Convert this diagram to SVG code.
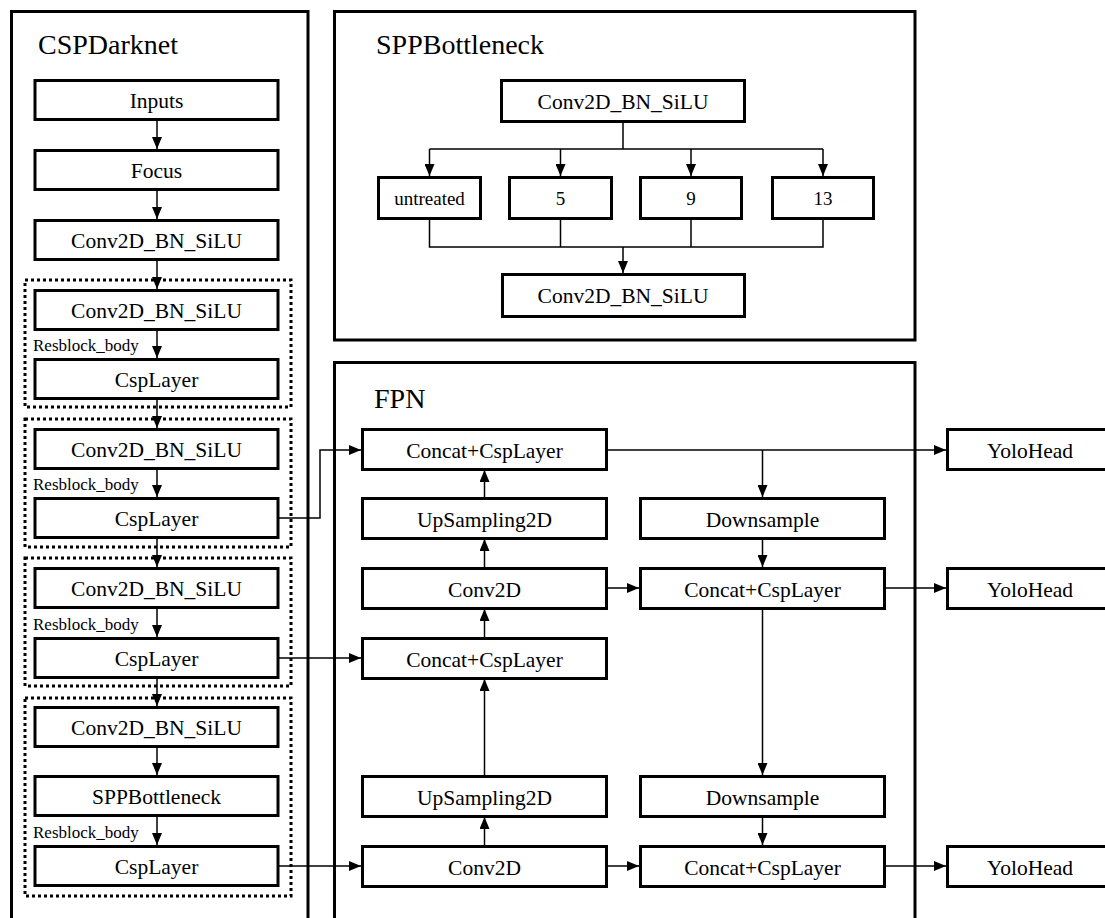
<svg xmlns="http://www.w3.org/2000/svg" width="1105" height="918" viewBox="0 0 1105 918">
<defs>
<marker id="ah" markerUnits="userSpaceOnUse" markerWidth="12" markerHeight="10" refX="12" refY="5" orient="auto">
<path d="M0,0 L12,5 L0,10 z" fill="#000"/>
</marker>
<style>
.frame{fill:none;stroke:#000;stroke-width:3}
.box{fill:#fff;stroke:#000;stroke-width:3}
.dot{fill:none;stroke:#000;stroke-width:3;stroke-dasharray:3 3}
.t{font-family:"Liberation Serif","Times New Roman",serif;font-size:21.5px;text-anchor:middle;fill:#000}
.s{font-family:"Liberation Serif","Times New Roman",serif;font-size:19px;text-anchor:middle;fill:#000}
.title{font-family:"Liberation Serif","Times New Roman",serif;font-size:28px;fill:#000}
.lab{font-family:"Liberation Serif","Times New Roman",serif;font-size:17px;fill:#000}
.c{fill:none;stroke:#000;stroke-width:1.5}
.a{fill:none;stroke:#000;stroke-width:1.5;marker-end:url(#ah)}
</style>
</defs>
<rect width="1105" height="918" fill="#fff"/>

<g id="frames">
<path class="frame" d="M11.5,930 V11.5 H308 V930"/>
<rect class="frame" x="334.5" y="11.5" width="580.5" height="328.5"/>
<path class="frame" d="M334.5,930 V362.5 H915 V930"/>
<text class="title" x="38" y="54">CSPDarknet</text>
<text class="title" x="376" y="54">SPPBottleneck</text>
<text class="title" x="374" y="408">FPN</text>
</g>

<g id="resblocks">
<rect class="dot" x="25" y="280" width="266" height="127"/>
<rect class="dot" x="25" y="419" width="266" height="128"/>
<rect class="dot" x="25" y="558" width="266" height="128"/>
<rect class="dot" x="25" y="698" width="266" height="198"/>
<text class="lab" x="33" y="351">Resblock_body</text>
<text class="lab" x="33" y="490">Resblock_body</text>
<text class="lab" x="33" y="630">Resblock_body</text>
<text class="lab" x="33" y="838">Resblock_body</text>
</g>

<g id="connectors">
<line class="a" x1="157" y1="121" x2="157" y2="149"/>
<line class="a" x1="157" y1="191" x2="157" y2="219"/>
<line class="a" x1="157" y1="261" x2="157" y2="289"/>
<line class="a" x1="157" y1="331" x2="157" y2="358"/>
<line class="a" x1="157" y1="400" x2="157" y2="428"/>
<line class="a" x1="157" y1="470" x2="157" y2="497"/>
<line class="a" x1="157" y1="539" x2="157" y2="567"/>
<line class="a" x1="157" y1="609" x2="157" y2="637"/>
<line class="a" x1="157" y1="679" x2="157" y2="706"/>
<line class="a" x1="157" y1="748" x2="157" y2="775"/>
<line class="a" x1="157" y1="817" x2="157" y2="845"/>

<line class="c" x1="623" y1="122" x2="623" y2="149"/>
<line class="c" x1="429.5" y1="149" x2="823" y2="149"/>
<line class="a" x1="429.5" y1="149" x2="429.5" y2="176"/>
<line class="a" x1="560.5" y1="149" x2="560.5" y2="176"/>
<line class="a" x1="691" y1="149" x2="691" y2="176"/>
<line class="a" x1="823" y1="149" x2="823" y2="176"/>
<path class="c" d="M429.5,220 V247 H823 V220 M560.5,220 V247 M691,220 V247"/>
<line class="a" x1="623" y1="247" x2="623" y2="273"/>

<path class="a" d="M279,518 H320 V450 H361"/>
<line class="a" x1="279" y1="658" x2="361" y2="658"/>
<line class="a" x1="279" y1="866" x2="361" y2="866"/>
<line class="a" x1="484.5" y1="845" x2="484.5" y2="817"/>
<line class="a" x1="484.5" y1="775" x2="484.5" y2="679"/>
<line class="a" x1="484.5" y1="637" x2="484.5" y2="609"/>
<line class="a" x1="484.5" y1="567" x2="484.5" y2="539"/>
<line class="a" x1="484.5" y1="497" x2="484.5" y2="470"/>
<line class="a" x1="608" y1="450" x2="946" y2="450"/>
<line class="a" x1="762.5" y1="450" x2="762.5" y2="497"/>
<line class="a" x1="762.5" y1="539" x2="762.5" y2="567"/>
<line class="a" x1="608" y1="588" x2="639" y2="588"/>
<line class="a" x1="886" y1="588" x2="946" y2="588"/>
<line class="a" x1="762.5" y1="609" x2="762.5" y2="775"/>
<line class="a" x1="762.5" y1="817" x2="762.5" y2="845"/>
<line class="a" x1="608" y1="866" x2="639" y2="866"/>
<line class="a" x1="886" y1="866" x2="946" y2="866"/>
</g>

<g id="inputs"><rect class="box" x="35" y="80.5" width="243" height="39"/><text class="t" x="156.5" y="108">Inputs</text></g>
<g id="focus"><rect class="box" x="35" y="150.5" width="243" height="39"/><text class="t" x="156.5" y="178">Focus</text></g>
<g id="csp_conv0"><rect class="box" x="35" y="220.5" width="243" height="39"/><text class="t" x="156.5" y="248">Conv2D_BN_SiLU</text></g>
<g id="csp_conv1"><rect class="box" x="35" y="290.5" width="243" height="39"/><text class="t" x="156.5" y="318">Conv2D_BN_SiLU</text></g>
<g id="csp_layer1"><rect class="box" x="35" y="359.5" width="243" height="39"/><text class="t" x="156.5" y="387">CspLayer</text></g>
<g id="csp_conv2"><rect class="box" x="35" y="429.5" width="243" height="39"/><text class="t" x="156.5" y="457">Conv2D_BN_SiLU</text></g>
<g id="csp_layer2"><rect class="box" x="35" y="498.5" width="243" height="39"/><text class="t" x="156.5" y="526">CspLayer</text></g>
<g id="csp_conv3"><rect class="box" x="35" y="568.5" width="243" height="39"/><text class="t" x="156.5" y="596">Conv2D_BN_SiLU</text></g>
<g id="csp_layer3"><rect class="box" x="35" y="638.5" width="243" height="39"/><text class="t" x="156.5" y="666">CspLayer</text></g>
<g id="csp_conv4"><rect class="box" x="35" y="707.5" width="243" height="39"/><text class="t" x="156.5" y="735">Conv2D_BN_SiLU</text></g>
<g id="csp_spp"><rect class="box" x="35" y="776.5" width="243" height="39"/><text class="t" x="156.5" y="804">SPPBottleneck</text></g>
<g id="csp_layer4"><rect class="box" x="35" y="846.5" width="243" height="39"/><text class="t" x="156.5" y="874">CspLayer</text></g>

<g id="spp_conv_top"><rect class="box" x="501.5" y="80.5" width="243" height="41"/><text class="t" x="623" y="109">Conv2D_BN_SiLU</text></g>
<g id="spp_untreated"><rect class="box" x="378.5" y="177.5" width="102" height="41"/><text class="s" x="429.5" y="205">untreated</text></g>
<g id="spp_5"><rect class="box" x="509.5" y="177.5" width="102" height="41"/><text class="s" x="560.5" y="205">5</text></g>
<g id="spp_9"><rect class="box" x="640.5" y="177.5" width="101" height="41"/><text class="s" x="691" y="205">9</text></g>
<g id="spp_13"><rect class="box" x="772.5" y="177.5" width="101" height="41"/><text class="s" x="823" y="205">13</text></g>
<g id="spp_conv_bottom"><rect class="box" x="502.5" y="274.5" width="242" height="42"/><text class="t" x="623" y="303">Conv2D_BN_SiLU</text></g>

<g id="fpn_concat1"><rect class="box" x="362.5" y="429.5" width="244" height="40"/><text class="t" x="484.5" y="458">Concat+CspLayer</text></g>
<g id="fpn_up1"><rect class="box" x="362.5" y="498.5" width="244" height="40"/><text class="t" x="484.5" y="527">UpSampling2D</text></g>
<g id="fpn_conv1"><rect class="box" x="362.5" y="568.5" width="244" height="40"/><text class="t" x="484.5" y="597">Conv2D</text></g>
<g id="fpn_concat2"><rect class="box" x="362.5" y="638.5" width="244" height="40"/><text class="t" x="484.5" y="667">Concat+CspLayer</text></g>
<g id="fpn_up2"><rect class="box" x="362.5" y="776.5" width="244" height="40"/><text class="t" x="484.5" y="805">UpSampling2D</text></g>
<g id="fpn_conv2"><rect class="box" x="362.5" y="846.5" width="244" height="40"/><text class="t" x="484.5" y="875">Conv2D</text></g>

<g id="pan_down1"><rect class="box" x="640.5" y="498.5" width="244" height="40"/><text class="t" x="762.5" y="527">Downsample</text></g>
<g id="pan_concat1"><rect class="box" x="640.5" y="568.5" width="244" height="40"/><text class="t" x="762.5" y="597">Concat+CspLayer</text></g>
<g id="pan_down2"><rect class="box" x="640.5" y="776.5" width="244" height="40"/><text class="t" x="762.5" y="805">Downsample</text></g>
<g id="pan_concat2"><rect class="box" x="640.5" y="846.5" width="244" height="40"/><text class="t" x="762.5" y="875">Concat+CspLayer</text></g>

<g id="yolohead1"><rect class="box" x="947.5" y="429.5" width="170" height="40"/><text class="t" x="1030" y="458">YoloHead</text></g>
<g id="yolohead2"><rect class="box" x="947.5" y="568.5" width="170" height="40"/><text class="t" x="1030" y="597">YoloHead</text></g>
<g id="yolohead3"><rect class="box" x="947.5" y="846.5" width="170" height="40"/><text class="t" x="1030" y="875">YoloHead</text></g>
</svg>
